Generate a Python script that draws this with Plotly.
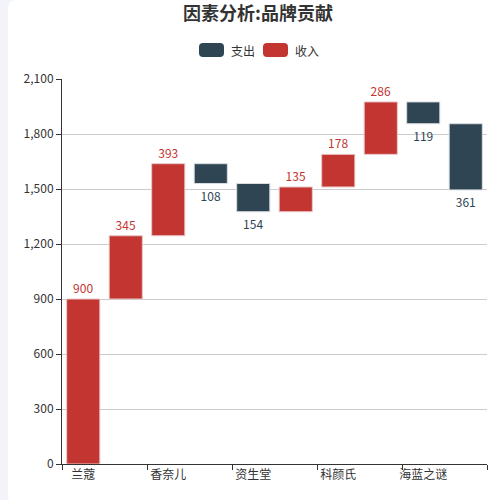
import plotly.graph_objects as go

# 品牌贡献瀑布图数据
brands = ['兰蔻', '迪奥', '香奈儿', '雅诗兰黛', '资生堂', '娇兰', '科颜氏', '赫莲娜', '海蓝之谜', '希思黎']
income = [900, 345, 393, None, None, 135, 178, 286, None, None]
expense = [None, None, None, 108, 154, None, None, None, 119, 361]
shown_labels = ['兰蔻', '香奈儿', '资生堂', '科颜氏', '海蓝之谜']

W, H = 500, 500
ML, MR, MT, MB = 62, 13, 79, 36
PW, PH = W - ML - MR, H - MT - MB

RED = '#c23531'
DARK = '#2f4554'
BG = '#f3f4f9'
FONT = 'Noto Sans CJK SC, Noto Sans, sans-serif'


def px_x(v):
    return (v - ML) / PW


def px_y(v):
    return (H - MB - v) / PH


# 累计计算每根柱子的起点
inc_base, exp_base = [], []
total = 0
for a, b in zip(income, expense):
    if a is not None:
        inc_base.append(total)
        exp_base.append(None)
        total += a
    else:
        exp_base.append(total)
        inc_base.append(None)
        total -= b

xs = list(range(len(brands)))

fig = go.Figure()
fig.add_trace(go.Bar(
    x=xs, y=[-v if v is not None else None for v in expense], base=exp_base,
    name='支出', width=0.78,
    marker=dict(color=DARK, line=dict(color='#d9dde0', width=1)),
    text=[str(v) if v is not None else '' for v in expense],
    textposition='outside', textfont=dict(color=DARK, size=12, family=FONT),
    cliponaxis=False,
))
fig.add_trace(go.Bar(
    x=xs, y=income, base=inc_base,
    name='收入', width=0.78,
    marker=dict(color=RED, line=dict(color='#e8c8c8', width=1)),
    text=[str(v) if v is not None else '' for v in income],
    textposition='outside', textfont=dict(color=RED, size=12, family=FONT),
    cliponaxis=False,
))


def rounded(x0, y0, x1, y1, r):
    # 像素坐标 -> paper 坐标的圆角矩形路径
    pts = [
        ('M', x0 + r, y0), ('L', x1 - r, y0), ('Q', x1, y0, x1, y0 + r),
        ('L', x1, y1 - r), ('Q', x1, y1, x1 - r, y1), ('L', x0 + r, y1),
        ('Q', x0, y1, x0, y1 - r), ('L', x0, y0 + r), ('Q', x0, y0, x0 + r, y0),
    ]
    parts = []
    for p in pts:
        cmd = p[0]
        coords = p[1:]
        s = []
        for i in range(0, len(coords), 2):
            s.append(f'{px_x(coords[i]):.5f},{px_y(coords[i + 1]):.5f}')
        parts.append(cmd + ' '.join(s))
    return ' '.join(parts) + ' Z'


shapes = [
    dict(type='path', xref='paper', yref='paper', layer='below',
         path=rounded(8, 0, 520, 503, 8), fillcolor='white', line=dict(width=0)),
    dict(type='path', xref='paper', yref='paper',
         path=rounded(199, 43, 224, 57, 4), fillcolor=DARK, line=dict(width=0)),
    dict(type='path', xref='paper', yref='paper',
         path=rounded(263, 43, 288, 57, 4), fillcolor=RED, line=dict(width=0)),
]

annotations = [
    dict(x=px_x(229), y=px_y(50), xref='paper', yref='paper', text='支出',
         showarrow=False, xanchor='left', yanchor='middle',
         font=dict(size=12, color='#333', family=FONT)),
    dict(x=px_x(293), y=px_y(50), xref='paper', yref='paper', text='收入',
         showarrow=False, xanchor='left', yanchor='middle',
         font=dict(size=12, color='#333', family=FONT)),
]

fig.update_layout(
    width=W, height=H,
    margin=dict(l=ML, r=MR, t=MT, b=MB),
    paper_bgcolor=BG,
    plot_bgcolor='rgba(0,0,0,0)',
    barmode='overlay',
    showlegend=False,
    title=dict(text='因素分析:品牌贡献', x=258 / W, xref='container', xanchor='center',
               y=1 - 14 / H, yref='container', yanchor='middle',
               font=dict(size=18, color='#333', family=FONT, weight='bold')),
    font=dict(family=FONT, size=12, color='#333'),
    shapes=shapes,
    annotations=annotations,
)

fig.update_xaxes(
    range=[-0.5, len(brands) - 0.5],
    tickmode='array',
    tickvals=[brands.index(b) for b in shown_labels],
    ticktext=shown_labels,
    ticks='', showgrid=False, zeroline=False,
    showline=True, linecolor='#333', linewidth=1,
    tickfont=dict(size=12, color='#333'),
    minor=dict(tickmode='array', tickvals=[i - 0.5 for i in range(0, len(brands) + 1, 2)],
               ticks='outside', ticklen=5, tickcolor='#333', showgrid=False),
)
fig.update_yaxes(
    range=[0, 2100], dtick=300, tickformat=',',
    ticks='outside', ticklen=5, tickcolor='#333',
    showline=True, linecolor='#333', linewidth=1,
    showgrid=True, gridcolor='#cccccc', gridwidth=1,
    zeroline=False,
    tickfont=dict(size=12, color='#333'),
)

fig.write_html('out.html', config={'displayModeBar': False}, post_script=(
    "document.body.style.margin='0';"
    "document.body.style.background='%s';" % BG
))
